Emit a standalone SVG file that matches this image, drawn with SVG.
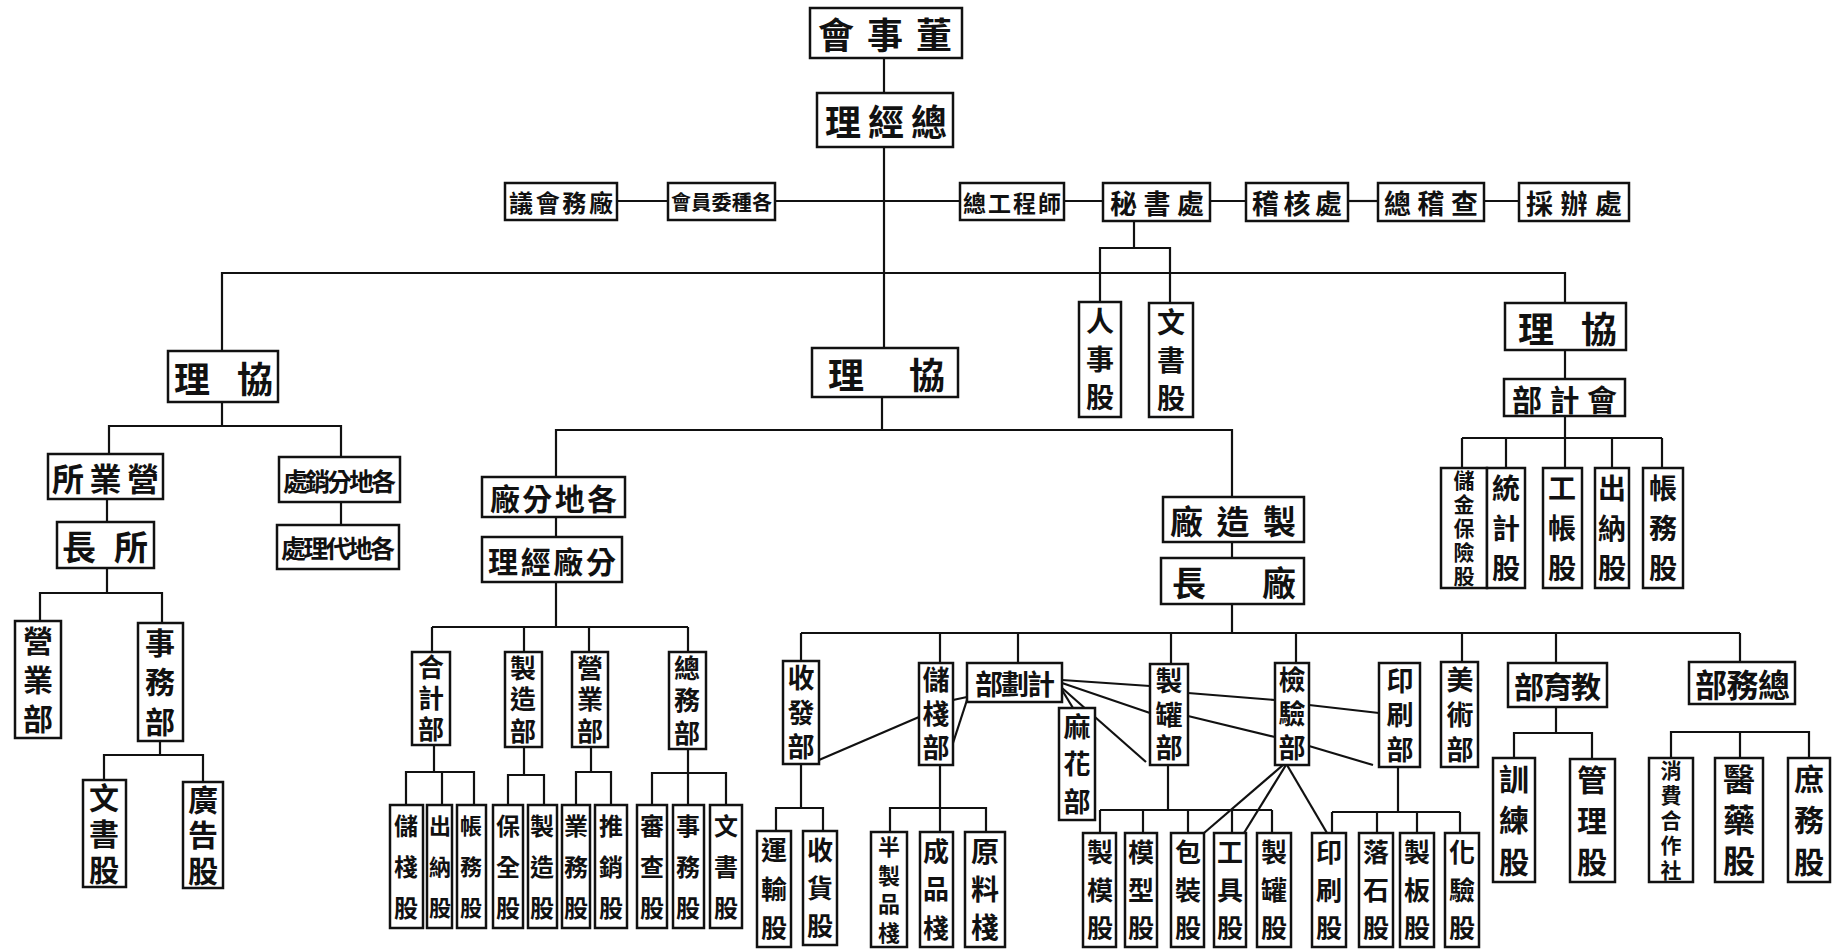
<svg xmlns="http://www.w3.org/2000/svg" width="1837" height="952" viewBox="0 0 1837 952">
<style>
.b{fill:#fff;stroke:#111;stroke-width:2.5}
.c line,.c polyline{stroke:#111;stroke-width:2.2;fill:none}
text{font-family:"Noto Sans CJK TC","Noto Sans CJK SC",sans-serif;font-weight:700;fill:#111;dominant-baseline:central}
.vt{writing-mode:vertical-rl;text-orientation:upright}
</style>
<rect width="1837" height="952" fill="#fff"/>
<g class="c" id="connectors">
<line x1="884" y1="58" x2="884" y2="93"/>
<line x1="884" y1="147" x2="884" y2="348"/>
<line x1="617" y1="201" x2="668" y2="201"/>
<line x1="775" y1="201" x2="960" y2="201"/>
<line x1="1064" y1="201" x2="1103" y2="201"/>
<line x1="1210" y1="201" x2="1246" y2="201"/>
<line x1="1348" y1="201" x2="1378" y2="201"/>
<line x1="1484" y1="201" x2="1519" y2="201"/>
<polyline points="1134,221 1134,248"/>
<polyline points="1100,302 1100,248 1170,248 1170,303"/>
<polyline points="222,351 222,273 1565,273 1565,303"/>
<line x1="1565" y1="350" x2="1565" y2="379"/>
<line x1="1565" y1="416" x2="1565" y2="468"/>
<line x1="1462" y1="438" x2="1662" y2="438"/>
<line x1="1462" y1="438" x2="1462" y2="468"/>
<line x1="1506" y1="438" x2="1506" y2="468"/>
<line x1="1612" y1="438" x2="1612" y2="468"/>
<line x1="1662" y1="438" x2="1662" y2="468"/>
<line x1="222" y1="402" x2="222" y2="426"/>
<polyline points="109,454 109,426 341,426 341,457"/>
<line x1="341" y1="502" x2="341" y2="525"/>
<line x1="107" y1="499" x2="107" y2="522"/>
<line x1="107" y1="568" x2="107" y2="593"/>
<polyline points="40,621 40,593 162,593 162,623"/>
<line x1="160" y1="741" x2="160" y2="755"/>
<polyline points="104,780 104,755 203,755 203,782"/>
<line x1="882" y1="397" x2="882" y2="430"/>
<polyline points="556,477 556,430 1232,430 1232,497"/>
<line x1="556" y1="517" x2="556" y2="537"/>
<line x1="556" y1="582" x2="556" y2="627"/>
<line x1="432" y1="627" x2="688" y2="627"/>
<line x1="432" y1="627" x2="432" y2="652"/>
<line x1="524" y1="627" x2="524" y2="652"/>
<line x1="589" y1="627" x2="589" y2="652"/>
<line x1="688" y1="627" x2="688" y2="652"/>
<line x1="434" y1="745" x2="434" y2="772"/>
<polyline points="406,805 406,772 474,772 474,805"/>
<line x1="442" y1="772" x2="442" y2="805"/>
<line x1="524" y1="747" x2="524" y2="775"/>
<polyline points="508,805 508,775 544,775 544,805"/>
<line x1="591" y1="747" x2="591" y2="772"/>
<polyline points="576,805 576,772 611,772 611,805"/>
<line x1="688" y1="749" x2="688" y2="805"/>
<polyline points="652,805 652,773 726,773 726,805"/>
<line x1="1232" y1="542" x2="1232" y2="558"/>
<line x1="1232" y1="604" x2="1232" y2="633"/>
<line x1="801" y1="633" x2="1740" y2="633"/>
<line x1="801" y1="633" x2="801" y2="661"/>
<line x1="940" y1="633" x2="940" y2="663"/>
<line x1="1018" y1="633" x2="1018" y2="663"/>
<line x1="1171" y1="633" x2="1171" y2="664"/>
<line x1="1296" y1="633" x2="1296" y2="663"/>
<line x1="1462" y1="633" x2="1462" y2="662"/>
<line x1="1556" y1="633" x2="1556" y2="663"/>
<line x1="1740" y1="633" x2="1740" y2="662"/>
<line x1="819" y1="760" x2="919" y2="717"/>
<line x1="953" y1="743" x2="967" y2="700"/>
<line x1="953" y1="700" x2="967" y2="697"/>
<line x1="1062" y1="680" x2="1150" y2="686"/>
<line x1="1062" y1="683" x2="1150" y2="713"/>
<line x1="1062" y1="690" x2="1073" y2="708"/>
<line x1="1062" y1="688" x2="1146" y2="762"/>
<line x1="1188" y1="693" x2="1275" y2="700"/>
<line x1="1309" y1="705" x2="1379" y2="713"/>
<line x1="1188" y1="716" x2="1275" y2="737"/>
<line x1="1309" y1="746" x2="1373" y2="765"/>
<line x1="1283" y1="765" x2="1204" y2="833"/>
<line x1="1286" y1="765" x2="1244" y2="833"/>
<line x1="1287" y1="765" x2="1327" y2="833"/>
<line x1="801" y1="764" x2="801" y2="808"/>
<polyline points="776,831 776,808 823,808 823,831"/>
<line x1="940" y1="765" x2="940" y2="832"/>
<polyline points="890,832 890,808 986,808 986,832"/>
<line x1="1168" y1="765" x2="1168" y2="810"/>
<line x1="1100" y1="810" x2="1272" y2="810"/>
<line x1="1100" y1="810" x2="1100" y2="833"/>
<line x1="1143" y1="810" x2="1143" y2="833"/>
<line x1="1188" y1="810" x2="1188" y2="833"/>
<line x1="1232" y1="810" x2="1232" y2="833"/>
<line x1="1272" y1="810" x2="1272" y2="833"/>
<line x1="1398" y1="767" x2="1398" y2="812"/>
<line x1="1332" y1="812" x2="1460" y2="812"/>
<line x1="1332" y1="812" x2="1332" y2="833"/>
<line x1="1377" y1="812" x2="1377" y2="833"/>
<line x1="1417" y1="812" x2="1417" y2="833"/>
<line x1="1460" y1="812" x2="1460" y2="833"/>
<line x1="1556" y1="707" x2="1556" y2="733"/>
<polyline points="1514,758 1514,733 1592,733 1592,759"/>
<polyline points="1671,758 1671,732 1809,732 1809,758"/>
<line x1="1740" y1="732" x2="1740" y2="758"/>
</g>
<g id="n-dsh"><rect class="b" x="810" y="8" width="152" height="50"/><text x="818" y="33" font-size="36" textLength="134">會事董</text></g>
<g id="n-zjl"><rect class="b" x="817" y="93" width="136" height="54"/><text x="825" y="120" font-size="36" textLength="122">理經總</text></g>
<g id="n-cwhy"><rect class="b" x="505" y="183" width="112" height="37"/><text x="509" y="201.5" font-size="24" textLength="104">議會務廠</text></g>
<g id="n-gzwyh"><rect class="b" x="668" y="183" width="107" height="37"/><text x="671" y="201.5" font-size="20" textLength="101">會員委種各</text></g>
<g id="n-zgcs"><rect class="b" x="960" y="183" width="104" height="37"/><text x="963" y="201.5" font-size="23" textLength="98">總工程師</text></g>
<g id="n-msc"><rect class="b" x="1103" y="183" width="107" height="38"/><text x="1110" y="202" font-size="27" textLength="94">秘書處</text></g>
<g id="n-jhc"><rect class="b" x="1246" y="183" width="102" height="38"/><text x="1252" y="202" font-size="27" textLength="90">稽核處</text></g>
<g id="n-zjc"><rect class="b" x="1378" y="183" width="106" height="38"/><text x="1384" y="202" font-size="27" textLength="94">總稽查</text></g>
<g id="n-cbc"><rect class="b" x="1519" y="183" width="110" height="38"/><text x="1526" y="202" font-size="27" textLength="96">採辦處</text></g>
<g id="n-rsg"><rect class="b" x="1079" y="302" width="42" height="115"/><text class="vt" x="1100" y="307.2" font-size="28" letter-spacing="10.3">人事股</text></g>
<g id="n-wsg1"><rect class="b" x="1149" y="303" width="44" height="114"/><text class="vt" x="1171" y="308" font-size="28" letter-spacing="10">文書股</text></g>
<g id="n-xl-left"><rect class="b" x="168" y="351" width="110" height="51"/><text x="174" y="376.5" font-size="36" textLength="99">理協</text></g>
<g id="n-xl-center"><rect class="b" x="812" y="348" width="146" height="49"/><text x="828" y="372.5" font-size="36" textLength="117">理協</text></g>
<g id="n-xl-right"><rect class="b" x="1505" y="303" width="121" height="47"/><text x="1518" y="326.5" font-size="36" textLength="99">理協</text></g>
<g id="n-kjb"><rect class="b" x="1504" y="379" width="121" height="37"/><text x="1512" y="397.5" font-size="30" textLength="105">部計會</text></g>
<g id="n-cjbx"><rect class="b" x="1441" y="468" width="46" height="120"/><text class="vt" x="1464" y="469.5" font-size="21" letter-spacing="3">儲金保險股</text></g>
<g id="n-tjg"><rect class="b" x="1487" y="468" width="38" height="120"/><text class="vt" x="1506" y="474" font-size="28" letter-spacing="12">統計股</text></g>
<g id="n-gzg"><rect class="b" x="1543" y="468" width="39" height="120"/><text class="vt" x="1562" y="474" font-size="28" letter-spacing="12">工帳股</text></g>
<g id="n-cng1"><rect class="b" x="1595" y="468" width="34" height="120"/><text class="vt" x="1612" y="474" font-size="28" letter-spacing="12">出納股</text></g>
<g id="n-zwg1"><rect class="b" x="1643" y="468" width="40" height="120"/><text class="vt" x="1663" y="474" font-size="28" letter-spacing="12">帳務股</text></g>
<g id="n-yys"><rect class="b" x="48" y="454" width="115" height="45"/><text x="52" y="476.5" font-size="32" textLength="107">所業營</text></g>
<g id="n-gdfx"><rect class="b" x="279" y="457" width="121" height="45"/><text x="283" y="479.5" font-size="25" textLength="113">處銷分地各</text></g>
<g id="n-sz"><rect class="b" x="57" y="522" width="97" height="46"/><text x="62" y="545" font-size="34" textLength="86">長所</text></g>
<g id="n-gddl"><rect class="b" x="277" y="525" width="122" height="44"/><text x="281" y="547" font-size="25" textLength="114">處理代地各</text></g>
<g id="n-yyb1"><rect class="b" x="15" y="621" width="46" height="117"/><text class="vt" x="38" y="625.5" font-size="30" letter-spacing="9">營業部</text></g>
<g id="n-swb1"><rect class="b" x="138" y="623" width="45" height="118"/><text class="vt" x="160" y="627.7" font-size="30" letter-spacing="9.3">事務部</text></g>
<g id="n-wsg2"><rect class="b" x="83" y="780" width="43" height="107"/><text class="vt" x="104" y="782.8" font-size="30" letter-spacing="5.7">文書股</text></g>
<g id="n-ggg"><rect class="b" x="183" y="782" width="40" height="106"/><text class="vt" x="203" y="784.7" font-size="30" letter-spacing="5.3">廣告股</text></g>
<g id="n-gdfc"><rect class="b" x="482" y="477" width="143" height="40"/><text x="490" y="497" font-size="30" textLength="127">廠分地各</text></g>
<g id="n-fcjl"><rect class="b" x="482" y="537" width="140" height="45"/><text x="488" y="559.5" font-size="30" textLength="128">理經廠分</text></g>
<g id="n-hjb"><rect class="b" x="412" y="652" width="38" height="93"/><text class="vt" x="431" y="654.5" font-size="26" letter-spacing="5">合計部</text></g>
<g id="n-zzb"><rect class="b" x="505" y="652" width="37" height="95"/><text class="vt" x="523" y="654.8" font-size="26" letter-spacing="5.7">製造部</text></g>
<g id="n-yyb2"><rect class="b" x="572" y="652" width="36" height="95"/><text class="vt" x="590" y="654.8" font-size="26" letter-spacing="5.7">營業部</text></g>
<g id="n-zwb1"><rect class="b" x="669" y="652" width="37" height="97"/><text class="vt" x="687" y="655.2" font-size="26" letter-spacing="6.3">總務部</text></g>
<g id="n-czg"><rect class="b" x="390" y="805" width="33" height="123"/><text class="vt" x="406" y="813.5" font-size="24" letter-spacing="17">儲棧股</text></g>
<g id="n-cng2"><rect class="b" x="427" y="805" width="25" height="123"/><text class="vt" x="440" y="814.5" font-size="22" letter-spacing="19">出納股</text></g>
<g id="n-zwg2"><rect class="b" x="457" y="805" width="29" height="123"/><text class="vt" x="471" y="814.5" font-size="22" letter-spacing="19">帳務股</text></g>
<g id="n-bqg"><rect class="b" x="493" y="805" width="30" height="123"/><text class="vt" x="508" y="813.5" font-size="24" letter-spacing="17">保全股</text></g>
<g id="n-zzg"><rect class="b" x="528" y="805" width="29" height="123"/><text class="vt" x="542" y="813.5" font-size="24" letter-spacing="17">製造股</text></g>
<g id="n-ywg"><rect class="b" x="562" y="805" width="28" height="123"/><text class="vt" x="576" y="813.5" font-size="24" letter-spacing="17">業務股</text></g>
<g id="n-txg"><rect class="b" x="595" y="805" width="32" height="123"/><text class="vt" x="611" y="813.5" font-size="24" letter-spacing="17">推銷股</text></g>
<g id="n-scg"><rect class="b" x="637" y="805" width="30" height="123"/><text class="vt" x="652" y="813.5" font-size="24" letter-spacing="17">審查股</text></g>
<g id="n-swg"><rect class="b" x="673" y="805" width="31" height="123"/><text class="vt" x="688" y="813.5" font-size="24" letter-spacing="17">事務股</text></g>
<g id="n-wsg3"><rect class="b" x="710" y="805" width="32" height="123"/><text class="vt" x="726" y="813.5" font-size="24" letter-spacing="17">文書股</text></g>
<g id="n-zzc"><rect class="b" x="1163" y="497" width="141" height="45"/><text x="1170" y="519.5" font-size="33" textLength="126">廠造製</text></g>
<g id="n-cz"><rect class="b" x="1161" y="558" width="143" height="46"/><text x="1172" y="581" font-size="34" textLength="124">長廠</text></g>
<g id="n-sfb"><rect class="b" x="783" y="661" width="36" height="103"/><text class="vt" x="801" y="664.7" font-size="27" letter-spacing="7.3">收發部</text></g>
<g id="n-czb"><rect class="b" x="919" y="663" width="34" height="102"/><text class="vt" x="936" y="666.5" font-size="27" letter-spacing="7">儲棧部</text></g>
<g id="n-jhb"><rect class="b" x="967" y="663" width="95" height="39"/><text x="975" y="682.5" font-size="28" textLength="80">部劃計</text></g>
<g id="n-mhb"><rect class="b" x="1059" y="708" width="36" height="112"/><text class="vt" x="1077" y="713.2" font-size="27" letter-spacing="10.3">麻花部</text></g>
<g id="n-zgb"><rect class="b" x="1150" y="664" width="38" height="101"/><text class="vt" x="1169" y="667.3" font-size="27" letter-spacing="6.7">製罐部</text></g>
<g id="n-jyb"><rect class="b" x="1275" y="663" width="34" height="102"/><text class="vt" x="1292" y="666.5" font-size="27" letter-spacing="7">檢驗部</text></g>
<g id="n-ysb"><rect class="b" x="1379" y="663" width="41" height="104"/><text class="vt" x="1400" y="666.8" font-size="27" letter-spacing="7.7">印刷部</text></g>
<g id="n-msb"><rect class="b" x="1441" y="662" width="37" height="105"/><text class="vt" x="1460" y="666" font-size="27" letter-spacing="8">美術部</text></g>
<g id="n-jyb2"><rect class="b" x="1508" y="663" width="99" height="44"/><text x="1514" y="685" font-size="30" textLength="87">部育教</text></g>
<g id="n-zwb2"><rect class="b" x="1689" y="662" width="106" height="42"/><text x="1695" y="683" font-size="32" textLength="95">部務總</text></g>
<g id="n-ysg"><rect class="b" x="757" y="831" width="34" height="116"/><text class="vt" x="774" y="837.3" font-size="26" letter-spacing="12.7">運輸股</text></g>
<g id="n-shg"><rect class="b" x="803" y="831" width="34" height="114"/><text class="vt" x="820" y="837" font-size="26" letter-spacing="12">收貨股</text></g>
<g id="n-bzpz"><rect class="b" x="871" y="832" width="36" height="115"/><text class="vt" x="889" y="835.4" font-size="22" letter-spacing="6.75">半製品棧</text></g>
<g id="n-cpz"><rect class="b" x="920" y="832" width="33" height="115"/><text class="vt" x="936" y="838.2" font-size="26" letter-spacing="12.3">成品棧</text></g>
<g id="n-ylz"><rect class="b" x="965" y="832" width="40" height="115"/><text class="vt" x="985" y="837.2" font-size="28" letter-spacing="10.3">原料棧</text></g>
<g id="n-zmg"><rect class="b" x="1083" y="833" width="33" height="114"/><text class="vt" x="1100" y="839" font-size="26" letter-spacing="12">製模股</text></g>
<g id="n-mxg"><rect class="b" x="1125" y="833" width="32" height="114"/><text class="vt" x="1141" y="839" font-size="26" letter-spacing="12">模型股</text></g>
<g id="n-bzg"><rect class="b" x="1171" y="833" width="33" height="114"/><text class="vt" x="1188" y="839" font-size="26" letter-spacing="12">包裝股</text></g>
<g id="n-gjg"><rect class="b" x="1214" y="833" width="32" height="114"/><text class="vt" x="1230" y="839" font-size="26" letter-spacing="12">工具股</text></g>
<g id="n-zgg"><rect class="b" x="1257" y="833" width="34" height="114"/><text class="vt" x="1274" y="839" font-size="26" letter-spacing="12">製罐股</text></g>
<g id="n-ysg2"><rect class="b" x="1312" y="833" width="34" height="114"/><text class="vt" x="1329" y="839" font-size="26" letter-spacing="12">印刷股</text></g>
<g id="n-lsg"><rect class="b" x="1359" y="833" width="34" height="114"/><text class="vt" x="1376" y="839" font-size="26" letter-spacing="12">落石股</text></g>
<g id="n-zbg"><rect class="b" x="1400" y="833" width="34" height="114"/><text class="vt" x="1417" y="839" font-size="26" letter-spacing="12">製板股</text></g>
<g id="n-hyg"><rect class="b" x="1445" y="833" width="34" height="114"/><text class="vt" x="1462" y="839" font-size="26" letter-spacing="12">化驗股</text></g>
<g id="n-xlg"><rect class="b" x="1493" y="758" width="42" height="124"/><text class="vt" x="1514" y="763.7" font-size="30" letter-spacing="11.3">訓練股</text></g>
<g id="n-glg"><rect class="b" x="1570" y="759" width="45" height="123"/><text class="vt" x="1592" y="764.5" font-size="30" letter-spacing="11">管理股</text></g>
<g id="n-xfhzs"><rect class="b" x="1649" y="758" width="44" height="124"/><text class="vt" x="1671" y="759.9" font-size="21" letter-spacing="3.8">消費合作社</text></g>
<g id="n-yyg"><rect class="b" x="1715" y="758" width="48" height="124"/><text class="vt" x="1739" y="762.7" font-size="32" letter-spacing="9.3">醫藥股</text></g>
<g id="n-swg2"><rect class="b" x="1788" y="758" width="42" height="124"/><text class="vt" x="1809" y="763.7" font-size="30" letter-spacing="11.3">庶務股</text></g>
</svg>
